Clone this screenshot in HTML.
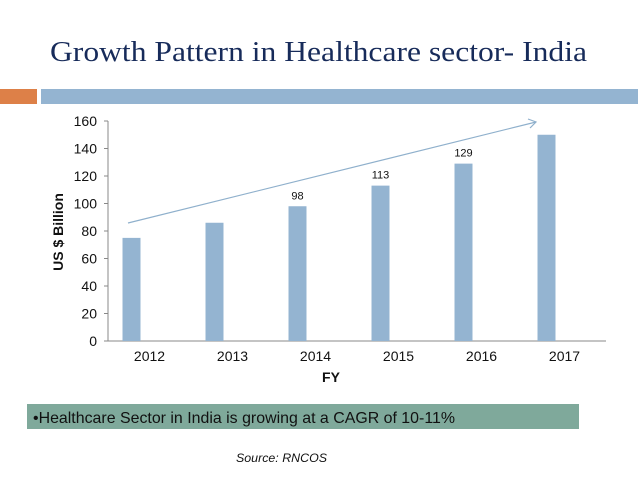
<!DOCTYPE html>
<html><head><meta charset="utf-8"><style>
html,body{margin:0;padding:0;background:#fff;}
svg{display:block;font-family:"Liberation Sans",sans-serif;}
</style></head><body>
<svg width="638" height="479" viewBox="0 0 638 479">
<text x="50" y="61" font-family="Liberation Serif, serif" font-size="28" fill="#172b5a" textLength="537" lengthAdjust="spacingAndGlyphs">Growth Pattern in Healthcare sector- India</text>
<rect x="0" y="89" width="37" height="15" fill="#dd8048"/>
<rect x="41" y="89" width="597" height="15" fill="#94b4d1"/>
<g id="chart"></g>
<rect x="27" y="404" width="552" height="25" fill="#7fa99b"/>
<text x="33" y="423" font-size="16" fill="#111" textLength="422" lengthAdjust="spacingAndGlyphs">•Healthcare Sector in India is growing at a CAGR of 10-11%</text>
<text x="236" y="462" font-size="12" font-style="italic" fill="#111" textLength="91" lengthAdjust="spacingAndGlyphs">Source: RNCOS</text>
</svg>
<script>
const categories=["2012","2013","2014","2015","2016","2017"];
const values=[75,86,98,113,129,150];
const valueLabels=["","","98","113","129",""];
const yTicks=[0,20,40,60,80,100,120,140,160];
const NS="http://www.w3.org/2000/svg";
const g=document.getElementById('chart');
const X0=108,X1=606,Y0=341,YT=121,YMAX=160;
const band=(X1-X0)/categories.length;
function y(v){return Y0-(v/YMAX)*(Y0-YT);}
function xc(i){return X0+band*i+band/2;}
function mk(tag,attrs){const e=document.createElementNS(NS,tag);for(const k in attrs)e.setAttribute(k,attrs[k]);g.appendChild(e);return e;}
let ax=mk('line',{x1:X0,y1:YT,x2:X0,y2:Y0,stroke:'#888'});


let bx=mk('line',{x1:X0-4,y1:Y0,x2:X1,y2:Y0,stroke:'#888'});


yTicks.forEach(t=>{
 let l=mk('line',{x1:X0-4,y1:y(t),x2:X0,y2:y(t),stroke:'#888'});
 
 
 let tx=mk('text',{x:X0-11,y:y(t)+5,'text-anchor':'end','font-size':14,fill:'#111'});
 tx.textContent=t;
 
 
});
categories.forEach((c,i)=>{
 const bw=18,bxl=xc(i)-27;
 let r=mk('rect',{x:bxl,y:y(values[i]),width:bw,height:Y0-y(values[i]),fill:'#94b4d1'});
 
 
 let t=mk('text',{x:xc(i),y:361,'text-anchor':'middle','font-size':14,fill:'#111'});
 t.textContent=c;
 
 
 if(valueLabels[i]){
  let v=mk('text',{x:bxl+bw/2,y:y(values[i])-7,'text-anchor':'middle','font-size':11,fill:'#111'});
  v.textContent=valueLabels[i];
  
  
 }
});
let xt=mk('text',{x:331,y:382,'text-anchor':'middle','font-size':14,'font-weight':'bold',fill:'#111'});
xt.textContent='FY';


let yt=mk('text',{x:0,y:0,'text-anchor':'middle','font-size':14,'font-weight':'bold',fill:'#111',transform:'translate(63,232) rotate(-90)'});
yt.textContent='US $ Billion';


let ar=mk('line',{x1:128,y1:223,x2:536,y2:122,stroke:'#8fb0cc','stroke-width':1.2});


let ah=mk('polyline',{points:'528,119 536,122 530,128',fill:'none',stroke:'#8fb0cc','stroke-width':1.2});


</script>
</body></html>
